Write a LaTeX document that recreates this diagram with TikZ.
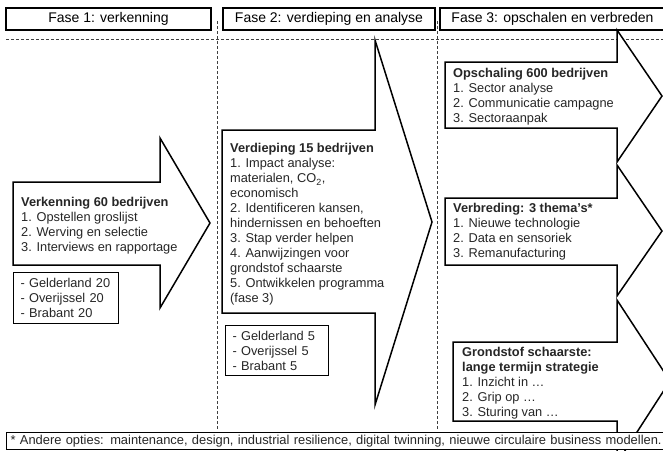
\documentclass[tikz,border=0pt]{standalone}
\usepackage{fontspec}
\setmainfont{Liberation Sans}
\usetikzlibrary{positioning}

\begin{document}
\begin{tikzpicture}[x=1pt,y=-1pt,
    phasebox/.style={draw, line width=1.2pt, minimum height=22pt, inner sep=0pt, font=\fontsize{14}{16}\selectfont},
    stepshape/.style={draw, line width=1.5pt, fill=white, line join=miter},
    steptext/.style={anchor=north west, inner sep=0pt, align=left, text=black!85, font=\fontsize{12.8}{15}\selectfont},
    listbox/.style={draw, line width=1.2pt, fill=white, anchor=north west, align=left, inner xsep=7pt, inner ysep=0pt, minimum height=50pt, text=black!85, font=\fontsize{12.8}{15}\selectfont},
    sepline/.style={black!75, line width=0.6pt, dash pattern=on 3pt off 2pt}]
        \useasboundingbox (0,0) rectangle (663,450);
        \clip (0,0) rectangle (663,450);

        % phases
        \node[phasebox, minimum width=205pt] (fase1) at (108.5,19) {Fase 1: verkenning};
        \node[phasebox, minimum width=212pt] (fase2) at (329,19) {Fase 2: verdieping en analyse};
        \node[phasebox, minimum width=225pt] (fase3) at (552.5,19) {Fase 3: opschalen en verbreden};

        % separators
        \draw[sepline] (6,39) -- (663,39);
        \draw[sepline] (217,21) -- (217,430);
        \draw[sepline] (437,21) -- (437,430);

        % arrows
        \draw[stepshape] (13,182) -- (160,182) -- (160,138) -- (210,223) -- (160,308) -- (160,265) -- (13,265) -- cycle;
        \draw[stepshape] (222,130) -- (375,130) -- (375,40) -- (432,222) -- (375,405) -- (375,313) -- (222,313) -- cycle;
        \draw[stepshape] (445,62) -- (617,62) -- (617,30) -- (662,96) -- (617,162) -- (617,128) -- (445,128) -- cycle;
        \draw[stepshape] (445,198) -- (617,198) -- (617,165) -- (662,231) -- (617,296) -- (617,265) -- (445,265) -- cycle;
        \draw[stepshape] (453,342) -- (617,342) -- (617,300) -- (670,381) -- (617,463) -- (617,421) -- (453,421) -- cycle;

        % texts
        \node[steptext] (verkenning) at (21,197.5) {\textbf{Verkenning 60 bedrijven}\\1. Opstellen groslijst\\2. Werving en selectie\\3. Interviews en rapportage};
        \node[steptext] (verdieping) at (230,143.5) {\textbf{Verdieping 15 bedrijven}\\1. Impact analyse:\\materialen, CO\textsubscript{2},\\economisch\\2. Identificeren kansen,\\hindernissen en behoeften\\3. Stap verder helpen\\4. Aanwijzingen voor\\grondstof schaarste\\5. Ontwikkelen programma\\(fase 3)};
        \node[steptext] (opschaling) at (453,68.5) {\textbf{Opschaling 600 bedrijven}\\1. Sector analyse\\2. Communicatie campagne\\3. Sectoraanpak};
        \node[steptext] (verbreding) at (453,203.5) {\textbf{Verbreding: 3 thema's*}\\1. Nieuwe technologie\\2. Data en sensoriek\\3. Remanufacturing};
        \node[steptext] (grondstof) at (462,347.5) {\textbf{Grondstof schaarste:}\\\textbf{lange termijn strategie}\\1. Inzicht in …\\2. Grip op …\\3. Sturing van …};

        % regions
        \node[listbox, text width=91pt, minimum height=51pt] (regio1) at (13,272) {- Gelderland 20\\- Overijssel 20\\- Brabant 20};
        \node[listbox, text width=89pt] (regio2) at (225,325) {- Gelderland 5\\- Overijssel 5\\- Brabant 5};

        % footnote
        \node[draw, line width=1.2pt, fill=white, anchor=north west, inner xsep=4pt, inner ysep=0pt, minimum height=17pt, text width=656pt, align=left, text=black!85, font=\fontsize{12.9}{14}\selectfont] (voetnoot) at (6,432) {* Andere opties: maintenance, design, industrial resilience, digital twinning, nieuwe circulaire business modellen.};
\end{tikzpicture}
\end{document}
